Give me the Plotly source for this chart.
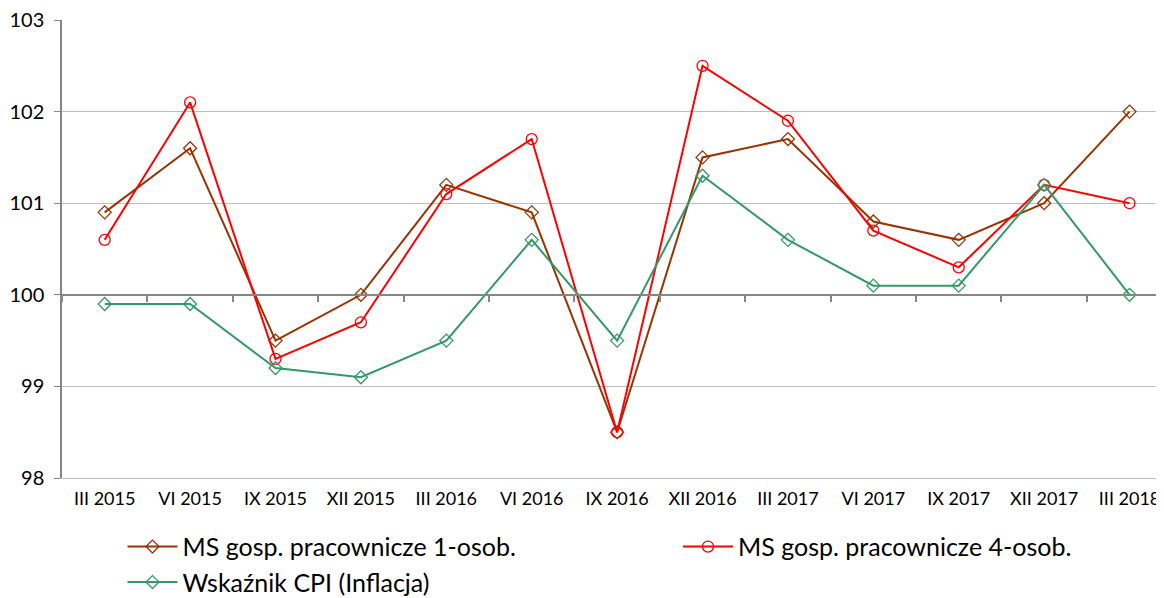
import plotly.graph_objects as go

categories = ["III 2015", "VI 2015", "IX 2015", "XII 2015", "III 2016", "VI 2016",
              "IX 2016", "XII 2016", "III 2017", "VI 2017", "IX 2017", "XII 2017", "III 2018"]
ms_1osob = [100.9, 101.6, 99.5, 100.0, 101.2, 100.9, 98.5, 101.5, 101.7, 100.8, 100.6, 101.0, 102.0]
ms_4osob = [100.6, 102.1, 99.3, 99.7, 101.1, 101.7, 98.5, 102.5, 101.9, 100.7, 100.3, 101.2, 101.0]
cpi = [99.9, 99.9, 99.2, 99.1, 99.5, 100.6, 99.5, 101.3, 100.6, 100.1, 100.1, 101.2, 100.0]

names = ["MS gosp. pracownicze 1-osob.", "MS gosp. pracownicze 4-osob.", "Wskaźnik CPI (Inflacja)"]
FONT = "Lato"

fig = go.Figure()
fig.add_trace(go.Scatter(x=categories, y=ms_1osob, name=names[0], mode="lines+markers",
                         legend="legend",
                         line=dict(color="#993300", width=2),
                         marker=dict(symbol="diamond-open", size=10, color="#993300", line=dict(width=1.3))))
fig.add_trace(go.Scatter(x=categories, y=ms_4osob, name=names[1], mode="lines+markers",
                         legend="legend2",
                         line=dict(color="#FF0000", width=2),
                         marker=dict(symbol="circle-open", size=11, color="#FF0000", line=dict(width=1.3))))
fig.add_trace(go.Scatter(x=categories, y=cpi, name=names[2], mode="lines+markers",
                         legend="legend",
                         line=dict(color="#339966", width=2),
                         marker=dict(symbol="diamond-open", size=10, color="#339966", line=dict(width=1.3))))
# invisible helper trace for the axis drawn at y=100
fig.add_trace(go.Scatter(x=categories, y=cpi, xaxis="x2", mode="lines", line=dict(width=0),
                         opacity=0, showlegend=False, hoverinfo="skip"))

xrange = [-0.5, 12.38]
legend_common = dict(orientation="v", xanchor="left", yanchor="top",
                     font=dict(size=25, family=FONT), itemwidth=50, tracegroupgap=0,
                     bgcolor="rgba(0,0,0,0)", traceorder="normal")
fig.update_layout(
    width=1156, height=590,
    margin=dict(l=54, r=2, t=12, b=120, autoexpand=False),
    paper_bgcolor="white", plot_bgcolor="white",
    font=dict(family=FONT, color="black"),
    showlegend=True,
    xaxis=dict(type="category", categoryorder="array", categoryarray=categories, range=xrange,
               showgrid=False, showline=True, linecolor="#BFBFBF", linewidth=1,
               ticks="outside", ticklen=4, tickcolor="rgba(0,0,0,0)",
               tickfont=dict(size=18, family=FONT), zeroline=False,
               ticklabeloverflow="allow"),
    xaxis2=dict(type="category", categoryorder="array", categoryarray=categories, range=xrange,
                overlaying="x", anchor="free", position=0.4, showgrid=False,
                showline=True, linecolor="#868686", linewidth=1.5,
                ticks="outside", tickson="boundaries", ticklen=6, tickcolor="#868686", tickwidth=1.5,
                showticklabels=False, zeroline=False),
    yaxis=dict(range=[98, 103], dtick=1, showgrid=True, gridcolor="#BFBFBF", gridwidth=1,
               showline=True, linecolor="#868686", linewidth=1.5,
               ticks="outside", ticklen=6, tickcolor="#868686",
               tickfont=dict(size=20, family=FONT), zeroline=False,
               ticklabelstandoff=6, ticklabeloverflow="allow"),
    legend=dict(x=0.055, y=-0.1, **legend_common),
    legend2=dict(x=0.56, y=-0.1, **legend_common),
)

fig.write_html("out.html")
